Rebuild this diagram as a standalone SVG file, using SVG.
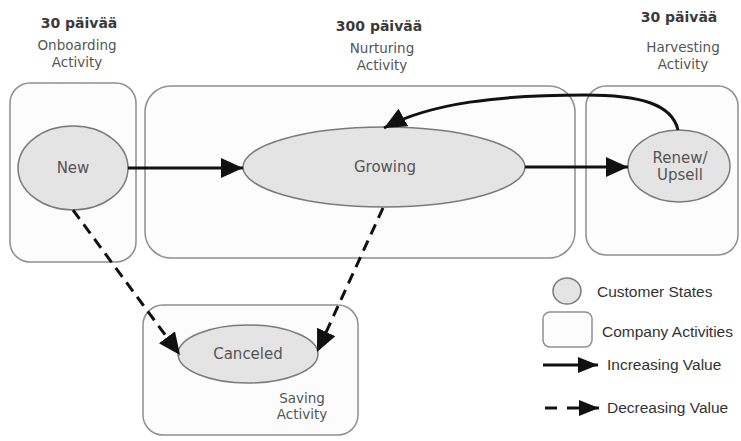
<svg xmlns="http://www.w3.org/2000/svg" width="741" height="441" viewBox="0 0 741 441">
  <style>
    .box { fill: #fcfcfc; stroke: #8f8f8f; stroke-width: 1.5; }
    .state { fill: #e4e4e4; stroke: #7a7a7a; stroke-width: 1.5; }
    .lbl { font-family: "DejaVu Sans", sans-serif; font-size: 15px; fill: #555; text-anchor: middle; }
    .act { font-family: "DejaVu Sans", sans-serif; font-size: 13.5px; fill: #555; text-anchor: middle; }
    .days { font-family: "DejaVu Sans", sans-serif; font-weight: bold; font-size: 14px; fill: #3a3a3a; text-anchor: middle; }
    .legend { font-family: "Liberation Sans", Arial, sans-serif; font-size: 15.5px; fill: #333; }
    .up { fill: none; stroke: #111; stroke-width: 3; }
    .down { fill: none; stroke: #111; stroke-width: 3; stroke-dasharray: 11 7; }
  </style>
  <defs>
    <marker id="head" markerUnits="userSpaceOnUse" markerWidth="24" markerHeight="22" refX="22" refY="10" orient="auto">
      <path d="M0,0 L22,10 L0,20 Z" fill="#111"/>
    </marker>
    <marker id="headSmall" markerUnits="userSpaceOnUse" markerWidth="22" markerHeight="18" refX="20" refY="8" orient="auto">
      <path d="M0,0 L20,8 L0,16 Z" fill="#111"/>
    </marker>
  </defs>

  <rect width="741" height="441" fill="#ffffff"/>

  <!-- column headings -->
  <g id="heading-onboarding">
    <text class="days" x="79" y="28">30 päivää</text>
    <text class="act" x="77" y="50">Onboarding</text>
    <text class="act" x="77" y="67">Activity</text>
  </g>
  <g id="heading-nurturing">
    <text class="days" x="379" y="31">300 päivää</text>
    <text class="act" x="382" y="53">Nurturing</text>
    <text class="act" x="382" y="70">Activity</text>
  </g>
  <g id="heading-harvesting">
    <text class="days" x="679" y="22">30 päivää</text>
    <text class="act" x="683" y="52">Harvesting</text>
    <text class="act" x="683" y="69">Activity</text>
  </g>

  <!-- company activities -->
  <g id="onboarding">
    <rect class="box" x="10" y="83" width="126" height="179" rx="20"/>
  </g>
  <g id="nurturing">
    <rect class="box" x="145" y="86" width="430" height="172" rx="26"/>
  </g>
  <g id="harvesting">
    <rect class="box" x="586" y="86" width="152" height="169" rx="20"/>
  </g>
  <g id="saving">
    <rect class="box" x="143" y="305" width="215" height="130" rx="20"/>
    <text class="act" x="302" y="403">Saving</text>
    <text class="act" x="302" y="419">Activity</text>
  </g>

  <!-- customer states -->
  <g id="new">
    <ellipse class="state" cx="73" cy="168" rx="55" ry="42"/>
    <text class="lbl" x="73" y="173">New</text>
  </g>
  <g id="growing">
    <ellipse class="state" cx="384" cy="167" rx="141" ry="40"/>
    <text class="lbl" x="385" y="172">Growing</text>
  </g>
  <g id="renew">
    <ellipse class="state" cx="679" cy="166" rx="51" ry="36"/>
    <text class="lbl" x="680" y="163">Renew/</text>
    <text class="lbl" x="680" y="180">Upsell</text>
  </g>
  <g id="canceled">
    <ellipse class="state" cx="248" cy="354" rx="70" ry="29"/>
    <text class="lbl" x="248" y="359">Canceled</text>
  </g>

  <!-- transitions -->
  <g id="connectors">
    <path class="up" d="M128,168 L243,168" marker-end="url(#head)"/>
    <path class="up" d="M525,167 L628,167" marker-end="url(#head)"/>
    <path class="up" d="M678,130 C672,104 640,95 585,95 C500,95 430,103 384,128" marker-end="url(#head)"/>
    <path class="down" d="M73,210 L180,355" marker-end="url(#head)"/>
    <path class="down" d="M383,208 L317,352" marker-end="url(#head)"/>
  </g>

  <!-- legend -->
  <g id="legend">
    <ellipse class="state" cx="567" cy="291" rx="14" ry="13"/>
    <text class="legend" x="597" y="297">Customer States</text>
    <rect class="box" x="543" y="312" width="49" height="35" rx="7"/>
    <text class="legend" x="602" y="337">Company Activities</text>
    <path class="up" d="M543,365 L598,365" marker-end="url(#headSmall)"/>
    <text class="legend" x="607" y="370">Increasing Value</text>
    <path class="up" d="M545,408 L557,408"/>
    <path class="up" d="M567,408 L599,408" marker-end="url(#headSmall)"/>
    <text class="legend" x="607" y="413">Decreasing Value</text>
  </g>
</svg>
